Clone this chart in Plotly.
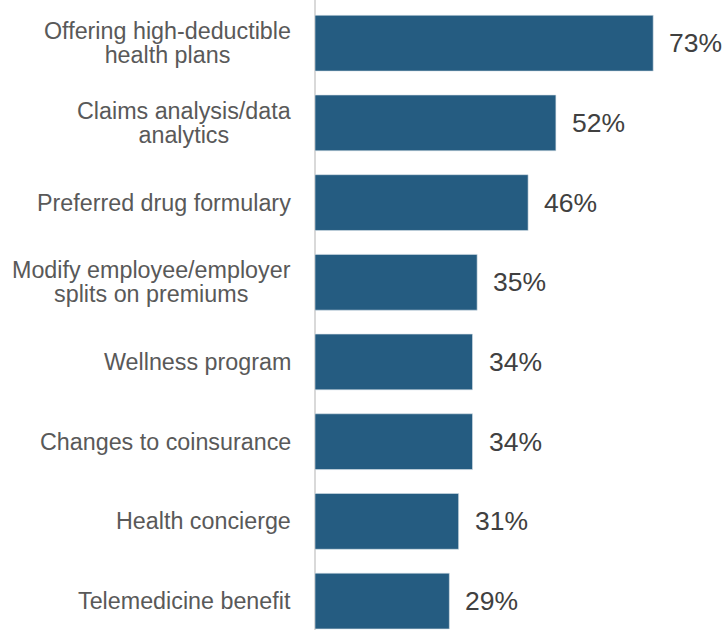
import plotly.graph_objects as go

# Cost-containment strategies and share of respondents using each (%)
strategies = [
    "Offering high-deductible<br>health plans",
    "Claims analysis/data<br>analytics",
    "Preferred drug formulary",
    "Modify employee/employer<br>splits on premiums",
    "Wellness program",
    "Changes to coinsurance",
    "Health concierge",
    "Telemedicine benefit",
]
shares = [73, 52, 46, 35, 34, 34, 31, 29]

BAR_COLOR = "#255c81"
LABEL_COLOR = "#595959"
VALUE_COLOR = "#404040"
FONT = "Liberation Sans, Arial, sans-serif"

positions = list(range(len(strategies)))

fig = go.Figure(
    go.Bar(
        x=shares,
        y=positions,
        orientation="h",
        width=0.7,
        marker=dict(color=BAR_COLOR, line=dict(color="#d6e0e8", width=0.6)),
        hoverinfo="skip",
    )
)

annotations = []
# Category labels: lines centred within a right-aligned block, tight line spacing
for pos, name in zip(positions, strategies):
    annotations.append(
        dict(
            x=0, xref="paper", y=pos, yref="y",
            xanchor="right", yanchor="middle", align="center",
            xshift=-22,
            text=f"<span style='font-size:23.3px'>{name}</span>",
            showarrow=False,
            font=dict(family=FONT, size=18.5, color=LABEL_COLOR),
        )
    )
# Value labels to the right of each bar
for pos, val in zip(positions, shares):
    annotations.append(
        dict(
            x=val, xref="x", y=pos, yref="y",
            xanchor="left", yanchor="middle",
            xshift=14,
            text=f"{val}%",
            showarrow=False,
            font=dict(family=FONT, size=26.5, color=VALUE_COLOR),
        )
    )

fig.update_layout(
    width=725,
    height=630,
    margin=dict(l=315, r=0, t=0, b=0),
    paper_bgcolor="white",
    plot_bgcolor="white",
    showlegend=False,
    annotations=annotations,
    xaxis=dict(
        range=[0, 88.5],
        showgrid=False,
        showticklabels=False,
        ticks="",
        zeroline=True,
        zerolinecolor="#d9d9d9",
        zerolinewidth=1.5,
        showline=False,
        fixedrange=True,
    ),
    yaxis=dict(
        range=[7.363, -0.542],
        showgrid=False,
        showticklabels=False,
        ticks="",
        zeroline=False,
        showline=False,
        fixedrange=True,
    ),
)

fig.write_html("out.html")
